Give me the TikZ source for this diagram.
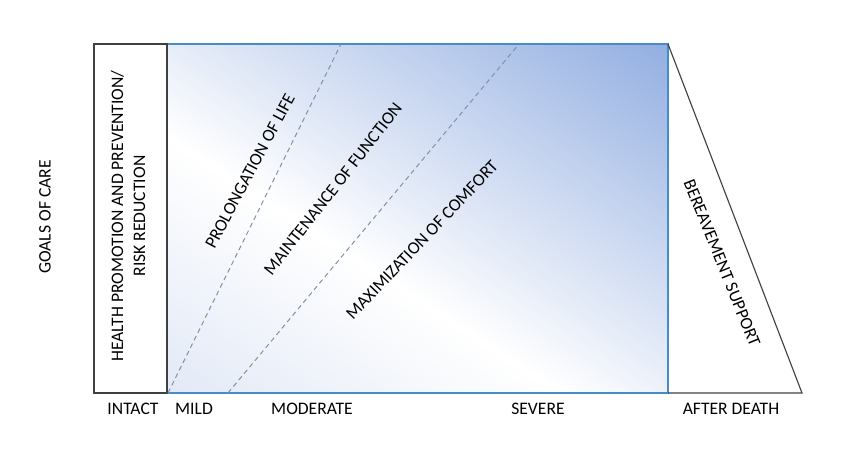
\documentclass[tikz,border=0pt]{standalone}
\usepackage{fontspec}
\setmainfont{Carlito}
\usepackage{tikz}
\usetikzlibrary{positioning,calc}
\definecolor{frameGray}{RGB}{64,64,64}
\definecolor{frameBlue}{RGB}{70,140,200}
\definecolor{dashBlue}{RGB}{125,145,170}
\definecolor{shadeLo}{RGB}{226,233,246}
\definecolor{shadeHi}{RGB}{146,174,225}
\pgfdeclarehorizontalshading{careshade}{100bp}{color(0bp)=(shadeLo); color(25bp)=(shadeLo); color(44bp)=(white); color(75bp)=(shadeHi); color(100bp)=(shadeHi)}

\begin{document}
\begin{tikzpicture}[x=0.025cm,y=0.025cm,
  lbl/.style={font=\fontsize{12.5}{15.6}\selectfont, inner sep=0pt, anchor=center},
  guide/.style={dashBlue, dash pattern=on 1.2mm off 0.9mm, line width=0.7pt}]
  \useasboundingbox (0,0) rectangle (850,456);
  % corners
  \coordinate (mildA) at (168,63);
  \coordinate (lifeTop) at (341,412);
  \coordinate (modA) at (228,63);
  \coordinate (funcTop) at (519,412);
  % shaded field
  \begin{scope}
    \clip (167,63) rectangle (668,412);
    \shade[shading=careshade, transform canvas={shift={(167,63)}, rotate=57}] (0,-430) rectangle (566,200);
  \end{scope}
  \draw[frameBlue, line width=1pt] (167,412) -- (668,412) -- (668,63) -- (167,63);
  \draw[frameGray, line width=0.8pt] (94,63) rectangle (167,412);
  \draw[frameGray, line width=0.8pt] (668,412) -- (802,63) -- (668,63);
  % stage boundaries
  \draw[guide] (mildA) -- (lifeTop);
  \draw[guide] (modA) -- (funcTop);
  % labels
  \node[lbl, rotate=90] (goals) at (45,239) {GOALS OF CARE};
  \node[lbl, rotate=90, align=center] (health) at (128,240) {HEALTH PROMOTION AND PREVENTION/\\RISK REDUCTION};
  \node[lbl, rotate=62] (life) at (250,285) {PROLONGATION OF LIFE};
  \node[lbl, rotate=52] (function) at (333,267) {MAINTENANCE OF FUNCTION};
  \node[lbl, rotate=46.5] (comfort) at (422,216) {MAXIMIZATION OF COMFORT};
  \node[lbl, rotate=-68] (bereave) at (722,193) {BEREAVEMENT SUPPORT};
  \node[lbl] (intact) at (133,47) {INTACT};
  \node[lbl] (mild) at (194,47) {MILD};
  \node[lbl] (moderate) at (312,47) {MODERATE};
  \node[lbl] (severe) at (538,47) {SEVERE};
  \node[lbl] (after) at (731,47) {AFTER DEATH};
\end{tikzpicture}
\end{document}
